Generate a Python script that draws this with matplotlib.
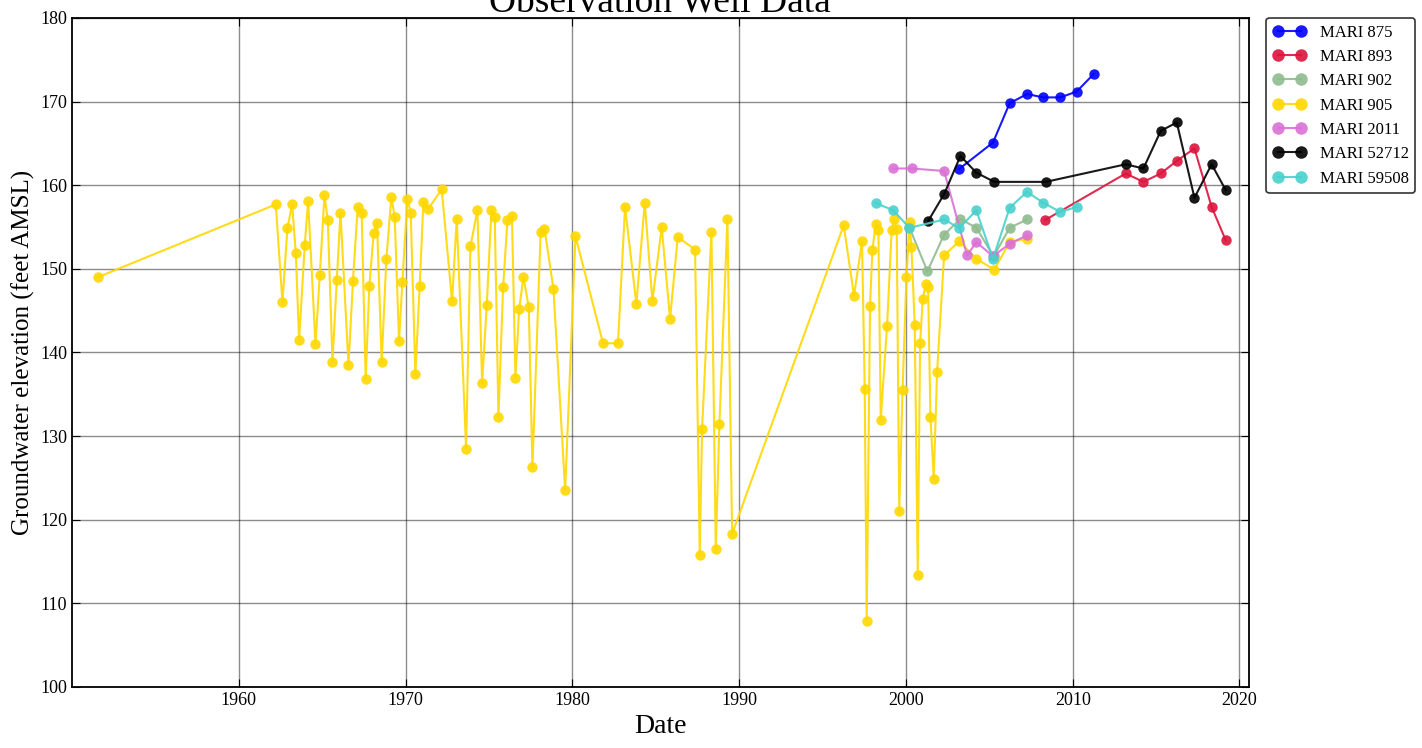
import matplotlib
matplotlib.use("Agg")
import matplotlib.pyplot as plt

plt.rcParams['font.family'] = ['Liberation Serif', 'DejaVu Serif']

# decimal year / groundwater elevation (feet AMSL) for each well
mari_875_year = [2003.20, 2005.22, 2006.22, 2007.26, 2008.24, 2009.26, 2010.24, 2011.26]
mari_875_elev = [161.95, 165.1, 169.8, 170.9, 170.5, 170.5, 171.2, 173.3]

mari_893_year = [2008.36, 2013.18, 2014.24, 2015.28, 2016.24, 2017.30, 2018.33, 2019.18]
mari_893_elev = [155.85, 161.4, 160.4, 161.4, 162.9, 164.4, 157.4, 153.4]

mari_902_year = [2000.20, 2001.29, 2002.29, 2003.27, 2004.22, 2005.26, 2006.22, 2007.26]
mari_902_elev = [155.0, 149.7, 154.1, 155.97, 154.9, 151.5, 154.9, 155.9]

mari_905_year = [
    1951.55, 1962.22, 1962.62, 1962.92, 1963.20, 1963.42, 1963.62, 1963.96, 1964.16, 1964.60,
    1964.86, 1965.14, 1965.34, 1965.62, 1965.88, 1966.10, 1966.58, 1966.85, 1967.13, 1967.37,
    1967.61, 1967.83, 1968.09, 1968.29, 1968.57, 1968.85, 1969.15, 1969.35, 1969.61, 1969.81,
    1970.11, 1970.31, 1970.59, 1970.85, 1971.07, 1971.37, 1972.17, 1972.79, 1973.07, 1973.63,
    1973.89, 1974.31, 1974.59, 1974.87, 1975.15, 1975.35, 1975.57, 1975.85, 1976.11, 1976.38,
    1976.59, 1976.81, 1977.07, 1977.39, 1977.61, 1978.10, 1978.33, 1978.87, 1979.57, 1980.19,
    1981.84, 1982.74, 1983.16, 1983.84, 1984.34, 1984.80, 1985.36, 1985.86, 1986.32, 1987.36,
    1987.64, 1987.78, 1988.34, 1988.60, 1988.82, 1989.30, 1989.58, 1996.27, 1996.89, 1997.37,
    1997.53, 1997.65, 1997.85, 1997.99, 1998.19, 1998.35, 1998.49, 1998.87, 1999.15, 1999.29,
    1999.45, 1999.60, 1999.80, 2000.03, 2000.23, 2000.33, 2000.53, 2000.71, 2000.85, 2001.01,
    2001.19, 2001.33, 2001.47, 2001.67, 2001.87, 2002.29, 2003.20, 2004.22, 2005.30, 2006.22,
    2007.26,
]
mari_905_elev = [
    149.0, 157.7, 146.0, 154.9, 157.7, 151.9, 141.5, 152.9, 158.1, 141.0,
    149.3, 158.8, 155.8, 138.9, 148.7, 156.7, 138.5, 148.6, 157.4, 156.7,
    136.8, 147.9, 154.3, 155.5, 138.8, 151.2, 158.6, 156.2, 141.4, 148.4,
    158.4, 156.7, 137.4, 148.0, 158.0, 157.2, 159.5, 146.1, 156.0, 128.5,
    152.7, 157.0, 136.3, 145.7, 157.0, 156.2, 132.3, 147.8, 155.8, 156.3,
    137.0, 145.2, 149.0, 145.4, 126.3, 154.4, 154.8, 147.6, 123.5, 153.9,
    141.1, 141.1, 157.4, 145.8, 157.9, 146.2, 155.0, 144.0, 153.8, 152.3,
    115.8, 130.9, 154.4, 116.5, 131.5, 156.0, 118.3, 155.2, 146.8, 153.3,
    135.6, 107.9, 145.6, 152.2, 155.4, 154.7, 131.9, 143.2, 154.7, 155.9,
    154.8, 121.0, 135.5, 149.0, 155.65, 152.65, 143.3, 113.4, 141.1, 146.4,
    148.2, 147.8, 132.3, 124.9, 137.7, 151.6, 153.3, 151.2, 149.9, 153.2,
    153.6,
]

mari_2011_year = [1999.24, 2000.34, 2002.29, 2003.67, 2004.22, 2005.22, 2006.22, 2007.26]
mari_2011_elev = [162.0, 162.0, 161.7, 151.6, 153.2, 151.5, 153.0, 154.0]

mari_52712_year = [2001.33, 2002.31, 2003.27, 2004.22, 2005.30, 2008.39, 2013.18, 2014.24,
                   2015.28, 2016.24, 2017.30, 2018.33, 2019.18]
mari_52712_elev = [155.7, 159.0, 163.5, 161.5, 160.4, 160.4, 162.5, 162.0,
                   166.5, 167.5, 158.5, 162.5, 159.4]

mari_59508_year = [1998.21, 1999.24, 2000.21, 2002.31, 2003.20, 2004.22, 2005.22, 2006.22,
                   2007.26, 2008.24, 2009.26, 2010.24]
mari_59508_elev = [157.85, 157.0, 154.9, 155.9, 154.85, 157.0, 151.2, 157.3,
                   159.2, 157.9, 156.8, 157.4]

wells = [
    ("MARI 875", mari_875_year, mari_875_elev, "blue"),
    ("MARI 893", mari_893_year, mari_893_elev, "crimson"),
    ("MARI 902", mari_902_year, mari_902_elev, "darkseagreen"),
    ("MARI 905", mari_905_year, mari_905_elev, "gold"),
    ("MARI 2011", mari_2011_year, mari_2011_elev, "orchid"),
    ("MARI 52712", mari_52712_year, mari_52712_elev, "black"),
    ("MARI 59508", mari_59508_year, mari_59508_elev, "mediumturquoise"),
]

fig = plt.figure(figsize=(14.22, 7.48), dpi=100)
ax = fig.add_axes([0.0506, 0.0816, 0.8275, 0.8944])

for name, yrs, elev, col in wells:
    ax.plot(yrs, elev, "-o", color=col, label=name, linewidth=1.5,
            markersize=7.5, markeredgewidth=0, alpha=0.9)

ax.set_xlim(1950, 2020.55)
ax.set_ylim(100, 180)
ax.set_xticks(range(1960, 2030, 10))
ax.set_yticks(range(100, 190, 10))
ax.tick_params(direction="in", length=6, top=True, right=True, labelsize=13)
ax.grid(True, color="black", alpha=0.45, linewidth=1)
for sp in ax.spines.values():
    sp.set_linewidth(1.3)

# title sits just above the axes and runs off the top edge, as in the source
ax.set_title("Observation Well Data", fontsize=27, pad=5)
ax.set_xlabel("Date", fontsize=20)
ax.set_ylabel("Groundwater elevation (feet AMSL)", fontsize=18)

leg = ax.legend(loc="upper left", bbox_to_anchor=(1.015, 1.0), fontsize=12,
                numpoints=2, markerscale=1.2, labelspacing=0.5, frameon=True,
                fancybox=True, borderaxespad=0)
leg.get_frame().set_edgecolor("black")
leg.get_frame().set_linewidth(1.2)

fig.savefig("out.png", dpi=100)
